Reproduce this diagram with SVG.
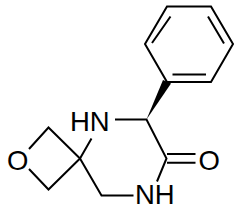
<svg xmlns="http://www.w3.org/2000/svg" width="240" height="213" viewBox="0 0 240 213">
<style>
.b{stroke:#000;stroke-width:2;fill:none;stroke-linecap:butt}
.t{font-family:"Liberation Sans",Arial,sans-serif;font-size:27.5px;fill:#000}
</style>
<rect width="240" height="213" fill="#fff"/>
<g id="bonds">
<path class="b" d="M167,82 L145,44 L167,6.5 L211,6.5 L233,44 L211,82 Z"/>
<path class="b" d="M152,43 L170.5,16.5 M208,16.5 L224,43.5 M172.5,74.5 L206,74.5"/>
<polygon points="146.5,119.5 163,80 171,83.5" fill="#000"/>
<path class="b" d="M115,119.5 L146.5,119.5 L166.5,158.5 L157,181.5"/>
<path class="b" d="M167,154 L195.5,154 M167,162.8 L195.5,162.8"/>
<path class="b" d="M91.5,138.5 L80,158.5 L101.5,195.5 L133.5,195.5"/>
<path class="b" d="M80,158.5 L48.5,127.5 L29,149 M29,169 L48.5,189.5 L80,158.5"/>
</g>
<g id="N1"><text class="t" x="70" y="130.5">HN</text></g>
<g id="N2"><text class="t" x="135" y="204">NH</text></g>
<g id="O1"><text class="t" x="198.5" y="170">O</text></g>
<g id="O2"><text class="t" x="7" y="170">O</text></g>
</svg>
